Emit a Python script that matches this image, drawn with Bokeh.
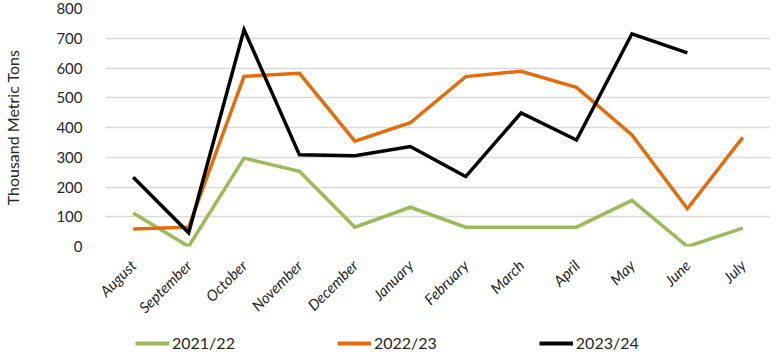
import math
from bokeh.plotting import figure
from bokeh.layouts import column
from bokeh.models import ColumnDataSource, Legend, LegendItem, Range1d, FixedTicker
from bokeh.embed import file_html
from bokeh.resources import INLINE

months = ["August", "September", "October", "November", "December", "January",
          "February", "March", "April", "May", "June", "July"]
s2122 = [113, 0, 297, 253, 65, 132, 65, 65, 65, 155, 0, 62]
s2223 = [59, 65, 572, 582, 354, 416, 571, 589, 535, 375, 127, 367]
s2324 = [233, 46, 729, 308, 305, 336, 235, 449, 358, 715, 651]
series_names = ["2021/22", "2022/23", "2023/24"]
colors = ["#9bbb59", "#e46c0a", "#000000"]
yticks = [0, 100, 200, 300, 400, 500, 600, 700, 800]

FONT = "Lato"
TXT = "#262626"

p = figure(width=776, height=330, x_range=months, y_range=Range1d(0, 800),
           output_backend="svg", toolbar_location=None,
           min_border_left=95, min_border_right=6, min_border_top=8, min_border_bottom=84)
p.outline_line_color = None
p.background_fill_color = "white"
p.border_fill_color = "white"

for name, vals, c in zip(series_names, [s2122, s2223, s2324], colors):
    src = ColumnDataSource(dict(x=months[:len(vals)], y=vals))
    p.line("x", "y", source=src, line_color=c, line_width=3.5, line_join="miter")

p.yaxis.ticker = FixedTicker(ticks=yticks)
p.ygrid.grid_line_color = "#d9d9d9"
p.ygrid.grid_line_width = 1.5
p.xgrid.grid_line_color = None

for ax in (p.xaxis[0], p.yaxis[0]):
    ax.axis_line_color = None
    ax.major_tick_line_color = None
    ax.minor_tick_line_color = None
    ax.major_label_text_font = FONT
    ax.major_label_text_color = TXT

p.yaxis.major_label_text_font_size = "15px"
p.yaxis.major_label_standoff = 17
p.yaxis.axis_label = "Thousand Metric Tons"
p.yaxis.axis_label_text_font = FONT
p.yaxis.axis_label_text_font_size = "16px"
p.yaxis.axis_label_text_font_style = "normal"
p.yaxis.axis_label_text_color = TXT
p.yaxis.axis_label_standoff = 31

p.xaxis.major_label_orientation = math.pi / 4
p.xaxis.major_label_text_font_size = "15px"
p.xaxis.major_label_text_font_style = "italic"
p.xaxis.major_label_standoff = 10

# legend strip below the chart
lf = figure(width=776, height=26, x_range=Range1d(0, 1), y_range=Range1d(0, 1),
            x_axis_location=None, y_axis_location=None,
            output_backend="svg", toolbar_location=None,
            min_border_left=0, min_border_right=0, min_border_top=0, min_border_bottom=0)
lf.grid.grid_line_color = None
lf.outline_line_color = None
items = []
for name, c in zip(series_names, colors):
    r = lf.line(x=[-2, -1], y=[-2, -1], line_color=c, line_width=4)
    items.append(LegendItem(label=name, renderers=[r]))
legend = Legend(items=items, orientation="horizontal", location=(30, 4),
                label_text_font=FONT, label_text_font_size="16px",
                label_text_color=TXT, glyph_width=34, glyph_height=18, label_height=18,
                label_standoff=3, spacing=102, border_line_color=None,
                background_fill_alpha=0, padding=0, margin=0)
lf.add_layout(legend, "center")

layout = column(p, lf, spacing=0)
open("out.html", "w").write(file_html(layout, INLINE))
